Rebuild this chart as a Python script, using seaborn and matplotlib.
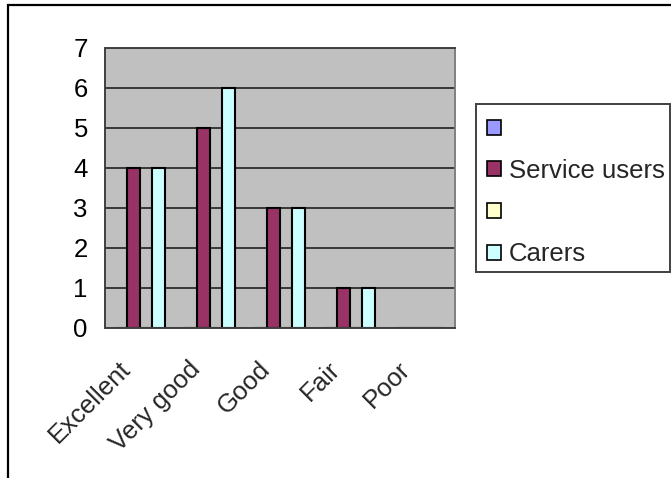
import matplotlib
matplotlib.use("Agg")
import matplotlib.pyplot as plt
from matplotlib.patches import Patch, Rectangle
import matplotlib.transforms as mtransforms
import numpy as np
import pandas as pd
import seaborn as sns

# Ratings by category
categories = ["Excellent", "Very good", "Good", "Fair", "Poor"]
series_keys = ["Series 1", "Service users", "Series 3", "Carers"]
legend_labels = ["", "Service users", "", "Carers"]
series_1 = [0, 0, 0, 0, 0]
service_users = [4, 5, 3, 1, 0]
series_3 = [0, 0, 0, 0, 0]
carers = [4, 6, 3, 1, 0]
y_ticks = [0, 1, 2, 3, 4, 5, 6, 7]

colors = ["#9999FF", "#993366", "#FFFFCC", "#CCFFFF"]

values = [series_1, service_users, series_3, carers]
df = pd.DataFrame(
    [(cat, key, vals[i])
     for key, vals in zip(series_keys, values)
     for i, cat in enumerate(categories)],
    columns=["category", "series", "value"],
)

sns.set_style("white")
plt.rcParams["font.family"] = ["Liberation Sans", "DejaVu Sans"]

FS = 18.5
W, H = 671, 478
fig = plt.figure(figsize=(W / 100, H / 100), dpi=100)
fig.patch.set_facecolor("white")

left, right, top, bottom = 104.5, 454.5, 47.5, 327.5
ax = fig.add_axes([left / W, 1 - bottom / H, (right - left) / W, (bottom - top) / H])
ax.set_facecolor("#C0C0C0")

sns.barplot(
    data=df, x="category", y="value", hue="series",
    order=categories, hue_order=series_keys,
    palette=dict(zip(series_keys, colors)), saturation=1,
    width=0.727, edgecolor="black", linewidth=1.5,
    legend=False, ax=ax, zorder=3,
)

ax.set_ylim(0, 7)
ax.set_xlim(-0.5, len(categories) - 0.5)
ax.set_yticks(y_ticks)
ax.set_yticklabels([str(v) for v in y_ticks], fontsize=FS)
ax.yaxis.grid(True, color="#383838", linewidth=1.4, zorder=1)
ax.set_axisbelow(True)

# category boundaries carry the tick marks; names sit between them
ax.set_xticks(np.arange(-0.5, len(categories), 1.0))
ax.set_xticklabels([])
ax.tick_params(axis="x", which="major", direction="out", length=6,
               width=1.3, color="#404040")
ax.tick_params(axis="y", direction="out", length=5, width=1.3,
               color="#404040", pad=7, labelcolor="black")
ax.set_xlabel("")
ax.set_ylabel("")

label_trans = (mtransforms.blended_transform_factory(ax.transData, ax.transAxes)
               + mtransforms.ScaledTranslation(-0.13, -0.38, fig.dpi_scale_trans))
for i, name in enumerate(categories):
    ax.text(i, 0, name, transform=label_trans, rotation=45, ha="right",
            va="center", rotation_mode="anchor", fontsize=FS, clip_on=False)

for side in ["left", "bottom", "top"]:
    ax.spines[side].set_color("#404040")
    ax.spines[side].set_linewidth(1.4)
ax.spines["right"].set_color("#808080")
ax.spines["right"].set_linewidth(1.4)
for sp in ax.spines.values():
    sp.set_zorder(4)

# legend entries, with the box drawn separately
handles = [Patch(facecolor=c, edgecolor="black", linewidth=1.2) for c in colors]
leg = fig.legend(
    handles, legend_labels, loc="upper left",
    bbox_to_anchor=(482 / W, 1 - 112 / H),
    fontsize=FS, frameon=False, borderaxespad=0, handlelength=0.52,
    handleheight=0.52, handletextpad=0.32, labelspacing=0.69,
    borderpad=0.2,
)
fig.add_artist(Rectangle((476 / W, 1 - 272 / H), 194 / W, 168 / H,
                         fill=False, edgecolor="#404040", linewidth=1.4,
                         transform=fig.transFigure))

# outer chart frame
fig.add_artist(Rectangle((8 / W, -0.2), 1.5, 1.2 - 5 / H, fill=False,
                         edgecolor="black", linewidth=1.6,
                         transform=fig.transFigure))

fig.savefig("out.png", dpi=100)
